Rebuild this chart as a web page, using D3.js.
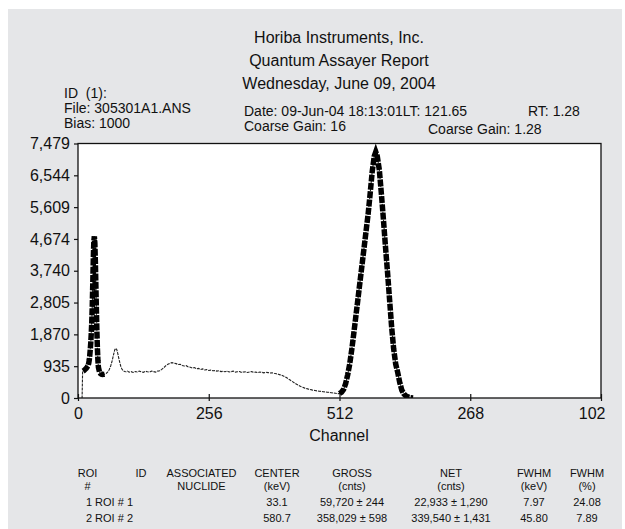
<!DOCTYPE html>
<html>
<head>
<meta charset="utf-8">
<script src="https://cdn.jsdelivr.net/npm/d3@7"></script>
<style>
body { margin: 0; background: #fff; }
text { font-family: "Liberation Sans", Arial, sans-serif; fill: #111; }
</style>
</head>
<body>
<div id="chart"></div>
<script>
var width = 625,
    height = 529;

// spectrum (channel -> counts)
var channels = [7, 8, 9, 10, 12, 14, 16, 18, 20, 21, 22, 23, 24, 25, 26, 27, 28, 29, 30, 31, 32, 33, 34, 35, 36, 37, 38, 39, 40, 42, 44, 46, 48, 50, 52,
    55, 58, 61, 64, 67, 70, 72, 74, 76, 78, 80, 82, 84, 86, 88, 91, 94, 97, 100, 104, 108, 112, 116, 120, 124, 128, 132, 136, 140, 144, 148, 152, 156,
    160, 164, 168, 172, 176, 180, 184, 188, 192, 196, 200, 204, 208, 212, 216, 220, 224, 228, 232, 236, 240, 244, 248, 252, 256, 260, 264, 268, 272, 276,
    280, 284, 288, 292, 296, 300, 304, 308, 312, 316, 320, 324, 328, 332, 336, 340, 344, 348, 352, 356, 360, 364, 368, 372, 376, 380, 384, 388, 392, 396,
    400, 404, 408, 412, 416, 420, 424, 428, 432, 436, 440, 444, 448, 452, 456, 460, 464, 468, 472, 476, 480, 484, 488, 492, 496, 500, 504, 508, 512,
    516, 520, 524, 528, 532, 536, 540, 544, 548, 552, 556, 560, 564, 568, 572, 576, 580, 583, 586, 590, 594, 598, 602, 606, 610, 614, 618, 622, 626,
    630, 634, 638, 642, 646, 650, 656];
var counts = [0, 0, 760, 790, 810, 840, 870, 910, 960, 1020, 1110, 1250, 1420, 1620, 1900, 2250, 2750, 3400, 4100, 4600, 4750, 4550, 4000, 3300, 2600, 1950, 1450, 1100, 900, 770, 720, 700, 690, 695, 700,
    720, 760, 830, 940, 1100, 1300, 1420, 1460, 1420, 1300, 1160, 1030, 920, 850, 810, 780, 770, 790, 760, 775, 750, 780, 765, 790, 770, 755, 785, 770, 760, 790, 775, 760, 790,
    800, 840, 890, 950, 990, 1020, 1040, 1025, 1010, 985, 990, 955, 940, 950, 915, 905, 880, 895, 860, 870, 840, 855, 825, 835, 810, 820, 800, 805, 790, 800,
    775, 785, 770, 790, 765, 775, 790, 760, 770, 780, 755, 765, 770, 750, 765, 775, 755, 760, 745, 765, 755, 740, 755, 745, 735, 740, 725, 715, 700, 680,
    660, 630, 600, 560, 520, 480, 440, 405, 370, 340, 315, 290, 275, 255, 245, 230, 220, 210, 200, 195, 185, 180, 170, 165, 155, 150, 140, 130, 130,
    170, 250, 420, 680, 1000, 1420, 1900, 2400, 2900, 3400, 3900, 4400, 4900, 5400, 6000, 6650, 7100, 7230, 7100, 6700, 6000, 5250, 4450, 3700, 2900, 2100, 1450, 1000, 750,
    450, 230, 120, 60, 30, 10, 0];

// regions of interest (drawn heavy)
var roiStart = [10, 510];
var roiEnd = [52, 656];

var xTicks = [0, 256, 512, 768, 1024];
var xTickLabels = ["0", "256", "512", "268", "102"];
var yTicks = [0, 935, 1870, 2805, 3740, 4674, 5609, 6544, 7479];

var titleLines = ["Horiba Instruments, Inc.", "Quantum Assayer Report", "Wednesday, June 09, 2004"];

// ROI table
var tableHead1 = ["ROI", "ID", "ASSOCIATED", "CENTER", "GROSS", "NET", "FWHM", "FWHM"];
var tableHead2 = ["#", "", "NUCLIDE", "(keV)", "(cnts)", "(cnts)", "(keV)", "(%)"];
var roiNames = ["1 ROI # 1", "2 ROI # 2"];
var roiCenter = ["33.1", "580.7"];
var roiGross = ["59,720 \u00b1 244", "358,029 \u00b1 598"];
var roiNet = ["22,933 \u00b1 1,290", "339,540 \u00b1 1,431"];
var roiFwhmKev = ["7.97", "45.80"];
var roiFwhmPct = ["24.08", "7.89"];

var data = channels.map((c, i) => ({ ch: c, c: counts[i] }));

var svg = d3.select("#chart")
    .append("svg")
    .attr("width", width)
    .attr("height", height);

svg.append("rect")
    .attr("x", 8).attr("y", 9)
    .attr("width", 614).attr("height", 520)
    .attr("fill", "#e5e6e8");

var x = d3.scaleLinear().domain([0, 1024]).range([78, 601]);
var y = d3.scaleLinear().domain([0, 7479]).range([398, 143.5]);

// header
svg.selectAll(".title")
    .data(titleLines)
    .join("text")
    .attr("class", "title")
    .attr("x", 339)
    .attr("y", (d, i) => 43 + i * 23)
    .attr("text-anchor", "middle")
    .attr("font-size", 16)
    .text(d => d);

var info = [
    ["ID\u00a0 (1):", 64, 98],
    ["File: 305301A1.ANS", 64, 113],
    ["Bias: 1000", 64, 128],
    ["Date: 09-Jun-04 18:13:01LT: 121.65", 244, 116],
    ["RT: 1.28", 528, 116],
    ["Coarse Gain: 16", 244, 131],
    ["Coarse Gain: 1.28", 428, 134]
];
svg.selectAll(".info")
    .data(info)
    .join("text")
    .attr("class", "info")
    .attr("x", d => d[1])
    .attr("y", d => d[2])
    .attr("font-size", 14)
    .text(d => d[0]);

// plot area
svg.append("rect")
    .attr("x", x(0)).attr("y", y(7479))
    .attr("width", x(1024) - x(0)).attr("height", y(0) - y(7479))
    .attr("fill", "#fff");

svg.append("clipPath").attr("id", "clip")
    .append("rect")
    .attr("x", x(0)).attr("y", y(7479))
    .attr("width", x(1024) - x(0)).attr("height", y(0) - y(7479));

var line = d3.line()
    .x(d => x(d.ch))
    .y(d => y(d.c));

var plot = svg.append("g").attr("clip-path", "url(#clip)");

plot.append("path")
    .datum(data)
    .attr("d", line)
    .attr("fill", "none")
    .attr("stroke", "#222")
    .attr("stroke-width", 1.1)
    .attr("stroke-dasharray", "3,1");

plot.selectAll(".roi")
    .data(roiStart)
    .join("path")
    .attr("class", "roi")
    .attr("d", (s, i) => line(data.filter(d => d.ch >= s && d.ch <= roiEnd[i])))
    .attr("fill", "none")
    .attr("stroke", "#000")
    .attr("stroke-width", 5.5)
    .attr("stroke-dasharray", "7,1.3");

svg.append("rect")
    .attr("x", x(0)).attr("y", y(7479))
    .attr("width", x(1024) - x(0)).attr("height", y(0) - y(7479))
    .attr("fill", "none")
    .attr("stroke", "#111")
    .attr("stroke-width", 1.3);

// axes
var xAxis = svg.append("g")
    .attr("transform", `translate(0,${y(0)})`)
    .call(d3.axisBottom(x).tickValues(xTicks).tickFormat((d, i) => xTickLabels[i]).tickSize(3).tickPadding(7));
xAxis.select(".domain").remove();
xAxis.selectAll(".tick line").attr("y1", -4).attr("stroke", "#111").attr("stroke-width", 1.2);
xAxis.selectAll(".tick text").attr("font-size", 16).attr("font-family", null).attr("fill", null);
xAxis.selectAll(".tick text").filter((d, i) => i == xTicks.length - 1)
    .attr("text-anchor", "end").attr("x", 4);

var yAxis = svg.append("g")
    .attr("transform", `translate(${x(0)},0)`)
    .call(d3.axisLeft(y).tickValues(yTicks).tickFormat(d3.format(",")).tickSize(4).tickPadding(4));
yAxis.select(".domain").remove();
yAxis.selectAll(".tick line").attr("stroke", "#111").attr("stroke-width", 1.2);
yAxis.selectAll(".tick text").attr("font-size", 16).attr("font-family", null).attr("fill", null);

svg.append("text")
    .attr("x", 339).attr("y", 441)
    .attr("text-anchor", "middle")
    .attr("font-size", 16)
    .text("Channel");

// table
var colX = [87.5, 141, 201.5, 277, 352, 451, 534, 587];
var table = svg.append("g").attr("font-size", 11);

table.selectAll(".h1")
    .data(tableHead1)
    .join("text")
    .attr("x", (d, i) => colX[i]).attr("y", 476.7)
    .attr("text-anchor", "middle")
    .text(d => d);
table.selectAll(".h2")
    .data(tableHead2)
    .join("text")
    .attr("x", (d, i) => colX[i]).attr("y", 489.7)
    .attr("text-anchor", "middle")
    .text(d => d);

roiNames.forEach(function (name, r) {
    var ry = 506.3 + r * 15.4;
    table.append("text").attr("x", 133).attr("y", ry).attr("text-anchor", "end").text(name);
    var cells = [roiCenter[r], roiGross[r], roiNet[r], roiFwhmKev[r], roiFwhmPct[r]];
    table.selectAll(".row" + r)
        .data(cells)
        .join("text")
        .attr("class", "row" + r)
        .attr("x", (d, i) => colX[i + 3]).attr("y", ry)
        .attr("text-anchor", "middle")
        .text(d => d);
});
</script>
</body>
</html>
